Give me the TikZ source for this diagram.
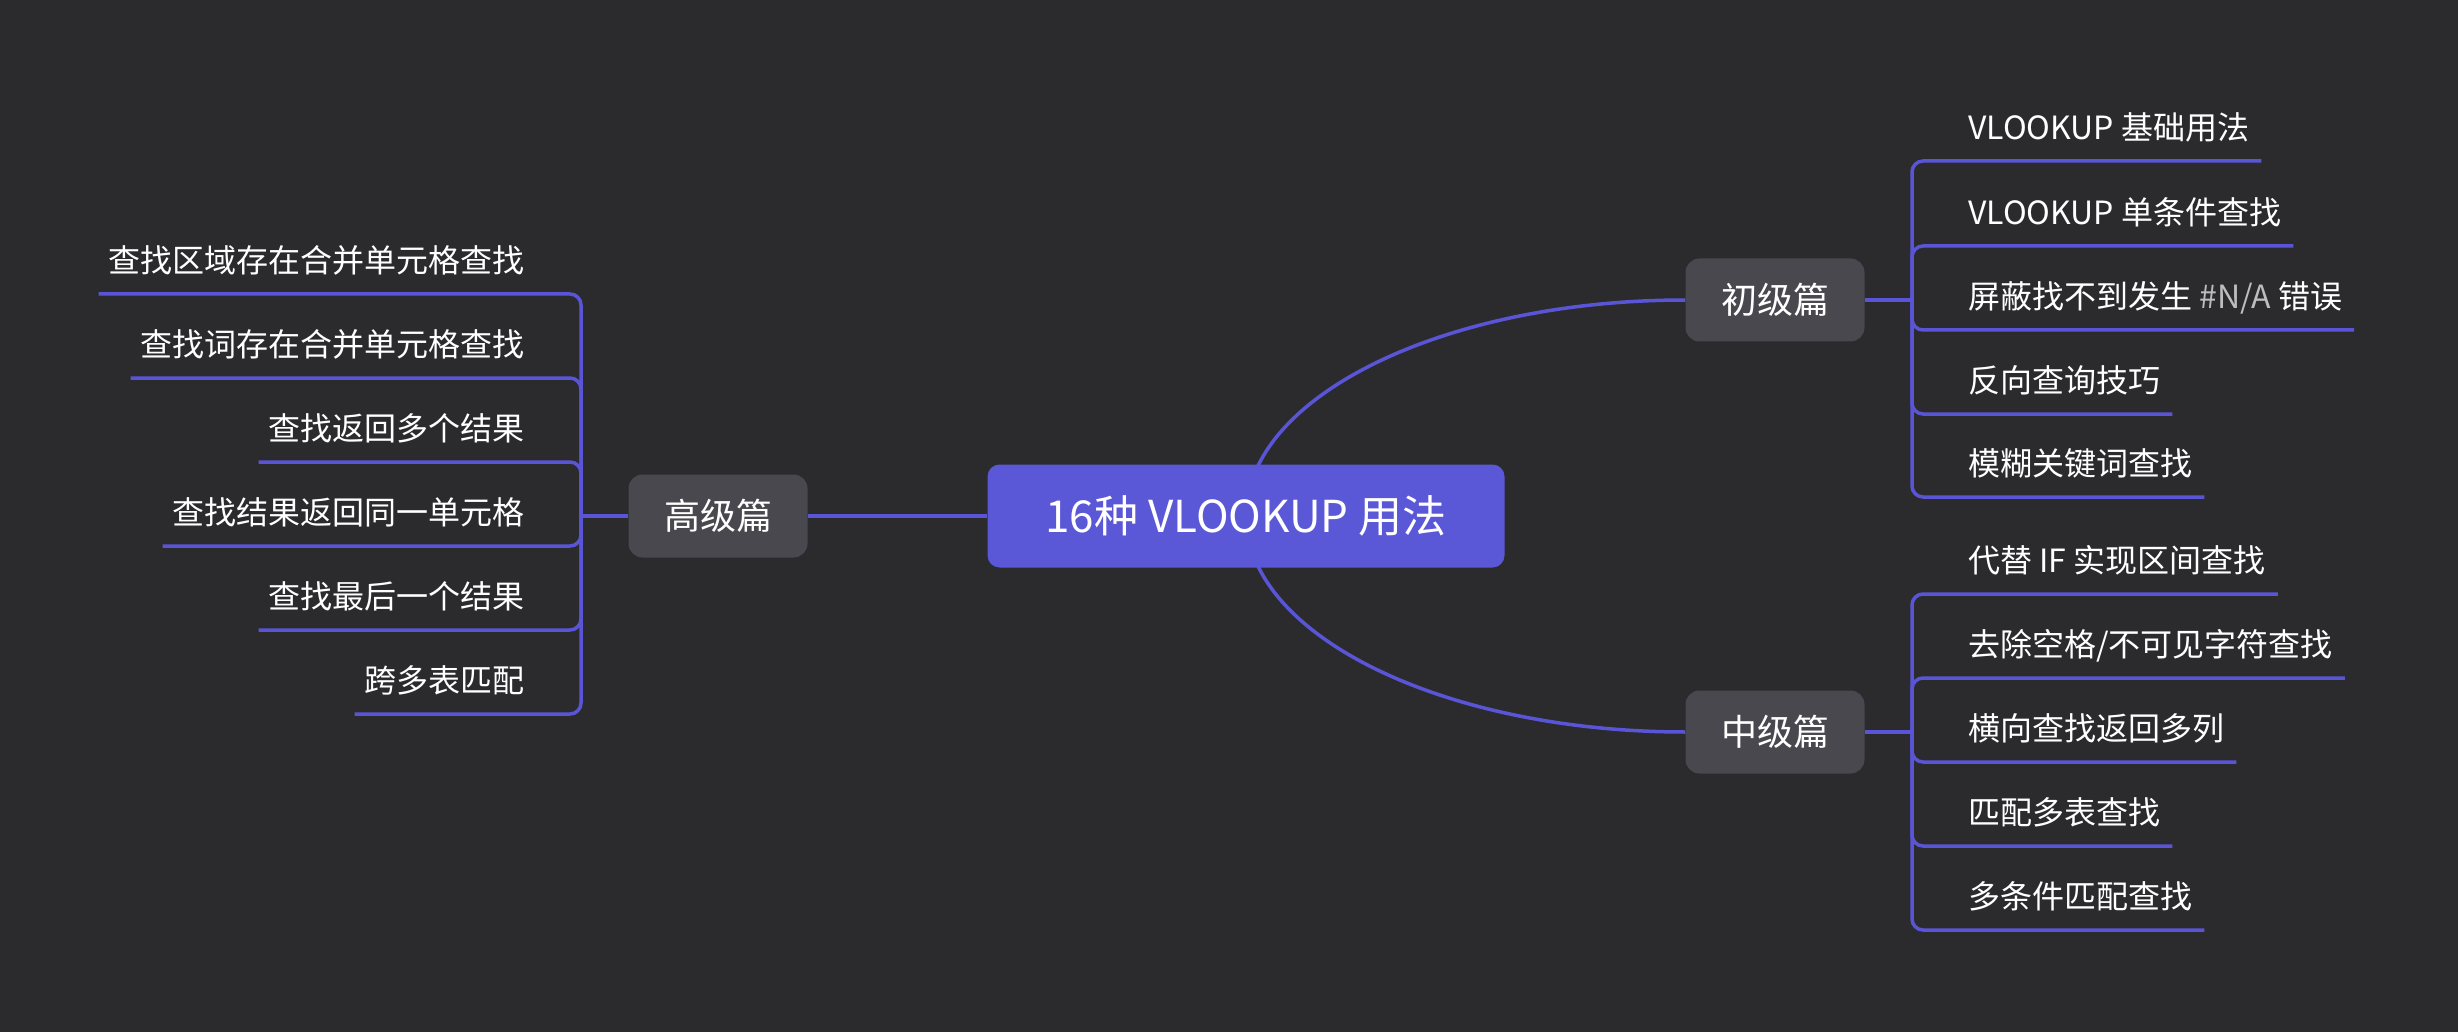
\documentclass[tikz,border=0pt]{standalone}
\usepackage{fontspec}
\setmainfont{Noto Sans CJK SC}
\usetikzlibrary{calc}
\definecolor{bgdark}{HTML}{2B2B2E}
\definecolor{rootblue}{HTML}{5B58D7}
\definecolor{topicgray}{HTML}{49484E}
\definecolor{linkblue}{HTML}{5A55D6}
\definecolor{nagray}{HTML}{BDBDBD}
\pgfdeclarelayer{bg}
\pgfdeclarelayer{edges}
\pgfsetlayers{bg,edges,main}

\begin{document}
\begin{tikzpicture}[x=1pt,y=-1pt,
  root/.style={fill=rootblue,text=white,rounded corners=12pt,
    minimum width=517pt,minimum height=103pt,font=\fontsize{44}{52}\selectfont},
  topic/.style={fill=topicgray,text=white,rounded corners=14pt,
    minimum width=179pt,minimum height=83pt,font=\fontsize{36}{43}\selectfont},
  leaf/.style={text=white,inner sep=0pt,minimum height=66pt,
    text height=26pt,text depth=2pt,font=\fontsize{32}{38}\selectfont},
  link/.style={draw=linkblue,line width=3.5pt},
  fork/.style={link,rounded corners=11pt}]
\begin{pgfonlayer}{bg}
\fill[bgdark] (0,0) rectangle (2458,1032);
\end{pgfonlayer}
\useasboundingbox (0,0) rectangle (2458,1032);

% Root and the three levels.
\node[root] (root) at (1246,516) {16种 VLOOKUP 用法};
\node[topic] (basic) at (1775,300) {初级篇};
\node[topic] (mid) at (1775,732) {中级篇};
\node[topic] (adv) at (718,516) {高级篇};

% Fork points of the brackets.
\coordinate (jb) at (1912,300);
\coordinate (jm) at (1912,732);
\coordinate (ja) at (581,516);

% Leaves, placed on their underline.
\foreach \y/\txt [count=\i] in {161/{VLOOKUP 基础用法},246/{VLOOKUP 单条件查找},
    330/{屏蔽找不到发生 {\color{nagray}\#N/A} 错误},414/{反向查询技巧},497/{模糊关键词查找}}
  \node[leaf,anchor=south west] (b\i) at (1968,\y) {\txt};
\foreach \y/\txt [count=\i] in {594/{代替 IF 实现区间查找},678/{去除空格/不可见字符查找},
    762/{横向查找返回多列},846/{匹配多表查找},930/{多条件匹配查找}}
  \node[leaf,anchor=south west] (m\i) at (1968,\y) {\txt};
\foreach \y/\txt [count=\i] in {294/{查找区域存在合并单元格查找},378/{查找词存在合并单元格查找},
    462/{查找返回多个结果},546/{查找结果返回同一单元格},630/{查找最后一个结果},714/{跨多表匹配}}
  \node[leaf,anchor=south east] (a\i) at (525,\y) {\txt};

\begin{pgfonlayer}{edges}
% Root to levels.
\draw[link] (root.center) .. controls (1246,397) and (1443,300) .. (basic.west);
\draw[link] (root.center) .. controls (1246,635) and (1443,732) .. (mid.west);
\draw[link] (adv.east) -- (root.west);
\draw[link] (basic.east) -- (jb);
\draw[link] (mid.east) -- (jm);
\draw[link] (adv.west) -- (ja);

% Brackets and underlines.
\foreach \i in {1,...,5} {
  \draw[fork] (jb) |- (b\i.south west) -- ([xshift=12pt]b\i.south east);
  \draw[fork] (jm) |- (m\i.south west) -- ([xshift=12pt]m\i.south east);
}
\foreach \i in {1,...,6}
  \draw[fork] (ja) |- (a\i.south east) -- ([xshift=-10pt]a\i.south west);
\end{pgfonlayer}
\end{tikzpicture}
\end{document}
